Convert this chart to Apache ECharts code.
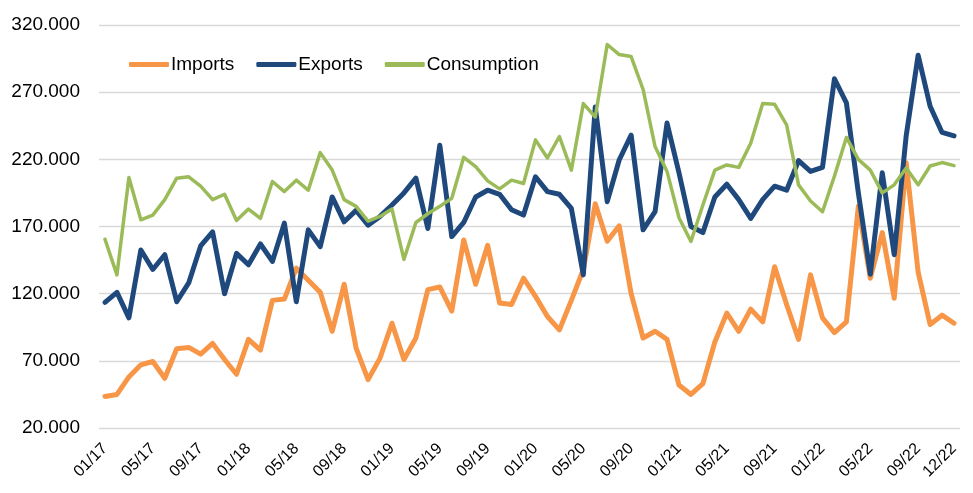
<!DOCTYPE html>
<html>
<head>
<meta charset="utf-8">
<script src="https://cdn.jsdelivr.net/npm/echarts@6/dist/echarts.min.js"></script>
<style>
  html, body { margin: 0; padding: 0; background: #fff; }
  #chart { width: 973px; height: 493px; }
</style>
</head>
<body>
<div id="chart"></div>
<script>
// monthly labels 01/17 .. 12/22
const months = [];
for (let y = 17; y <= 22; y++) {
    for (let m = 1; m <= 12; m++) {
        months.push(String(m).padStart(2, "0") + "/" + y);
    }
}

const imports = [43.5, 45, 58, 67, 69.5, 57, 79, 80, 75, 83,
    71, 60, 86, 78, 115, 116, 139, 130, 121, 92,
    127, 79.5, 56, 72, 98, 71, 87, 123, 125, 107,
    160, 127, 156, 113, 112, 131.5, 118, 103, 93, 115,
    138, 187, 159, 170.5, 120, 87, 92, 86, 52, 45,
    53, 84, 105.5, 92, 108.5, 99, 140, 112, 86, 134,
    102, 91, 99, 185, 131.5, 165.5, 116.6, 217.5, 136, 97,
    104, 98];

const exports = [113.5, 121, 102, 152.5, 138, 149, 114, 128, 155.5, 166,
    120, 150, 141.5, 157, 144, 172.5, 114, 167.5, 155, 192,
    173.5, 182, 171, 177.5, 186, 195, 206, 168.5, 230.5, 162.5,
    173, 192, 197, 194, 182.5, 178.5, 207, 196, 194, 183.5,
    134, 259, 188.5, 219.5, 238, 167.5, 181, 247, 210, 170,
    165.5, 192, 201.5, 190, 176, 190, 200, 197, 219, 211,
    214, 280, 262, 195, 134.5, 210, 149, 237.5, 297.5, 259.5,
    240, 237.5];

const consumption = [160.5, 134, 206.5, 175, 178.5, 190, 206, 207, 200, 190,
    194, 174.5, 183, 176, 203.5, 196, 204.5, 197, 225, 212,
    190, 185, 174, 177.5, 183, 145.5, 173, 179.5, 185, 191,
    221.5, 214.5, 204, 198, 204.5, 202, 234.5, 221, 237, 212,
    261.5, 251.5, 305.5, 298, 296.5, 272, 229.5, 211, 176.5, 158.8,
    186, 212, 215.8, 214, 232, 261.5, 261, 245.6, 201, 189,
    181, 207.5, 236.3, 220, 212, 195, 201, 213.5, 201, 215,
    217.6, 215.3];

const chart = echarts.init(document.getElementById("chart"));

const font = "Liberation Sans, Arial, sans-serif";

const option = {
    animation: false,
    grid: {
        left: 99,
        right: 13,
        top: 25,
        bottom: 65,
    },
    legend: {
        left: 124,
        top: 50,
        icon: "roundRect",
        itemWidth: 40,
        itemHeight: 5,
        itemGap: 22,
        textStyle: { fontFamily: font, fontSize: 19, color: "#000", padding: [0, 0, 0, -3] },
        data: ["Imports", "Exports", "Consumption"],
    },
    xAxis: {
        type: "category",
        data: months,
        boundaryGap: true,
        axisLine: { show: false },
        axisTick: { show: false },
        axisLabel: {
            interval: (i) => i % 4 === 0 || i === months.length - 1,
            rotate: 45,
            margin: 18,
            fontFamily: font,
            fontSize: 16,
            color: "#000",
        },
    },
    yAxis: {
        type: "value",
        min: 20,
        max: 320,
        interval: 50,
        axisLine: { show: false },
        axisTick: { show: false },
        splitLine: { lineStyle: { color: "#d9d9d9", width: 1.3 } },
        axisLabel: {
            margin: 19,
            fontFamily: font,
            fontSize: 19,
            color: "#000",
            formatter: (v) => v.toFixed(3),
        },
    },
    series: [
        {
            name: "Imports",
            type: "line",
            data: imports,
            symbol: "none",
            lineStyle: { color: "#f79646", width: 5, cap: "round", join: "round" },
            itemStyle: { color: "#f79646" },
        },
        {
            name: "Exports",
            type: "line",
            data: exports,
            symbol: "none",
            lineStyle: { color: "#1f497d", width: 5, cap: "round", join: "round" },
            itemStyle: { color: "#1f497d" },
        },
        {
            name: "Consumption",
            type: "line",
            data: consumption,
            symbol: "none",
            lineStyle: { color: "#9bbb59", width: 3.5, cap: "round", join: "round" },
            itemStyle: { color: "#9bbb59" },
        },
    ],
};

chart.setOption(option);
</script>
</body>
</html>
